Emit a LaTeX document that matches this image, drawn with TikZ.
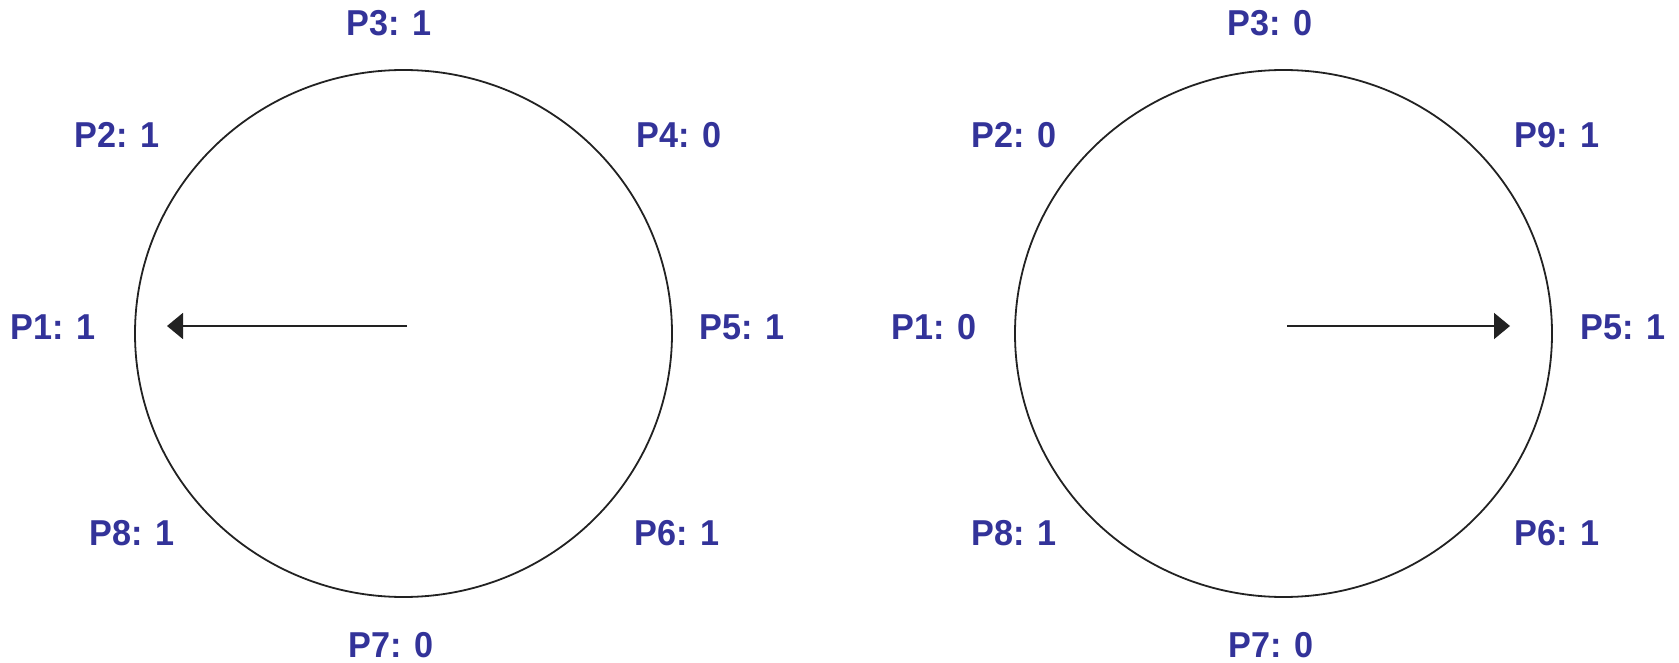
\documentclass[tikz,border=0pt]{standalone}
\usepackage{fontspec}
\setmainfont{Liberation Sans}
\usetikzlibrary{arrows.meta}
\definecolor{lblblue}{HTML}{333399}
\definecolor{ink}{HTML}{222222}
\tikzset{
  lbl/.style={font=\fontsize{36}{40}\selectfont\bfseries, text=lblblue, inner sep=0pt, anchor=center, xscale=0.95},
  ring/.style={draw=ink, line width=1.8pt},
  pointer/.style={draw=ink, line width=1.8pt, -{Triangle[length=16pt,width=26pt]}}
}
\begin{document}
\begin{tikzpicture}[x=1pt,y=-1pt]
\useasboundingbox (0,0) rectangle (1679,663);
% left diagram
\draw[ring] (403.5,333.5) ellipse [x radius=268.5, y radius=263.5];
\coordinate (la) at (407,326);
\coordinate (lb) at (167,326);
\draw[pointer] (la) -- (lb);
\node[lbl] (l1) at (53,327) {P1: 1};
\node[lbl] (l2) at (117,135) {P2: 1};
\node[lbl] (l3) at (389,23) {P3: 1};
\node[lbl] (l4) at (679,135) {P4: 0};
\node[lbl] (l5) at (742,327) {P5: 1};
\node[lbl] (l6) at (677,533) {P6: 1};
\node[lbl] (l7) at (391,645) {P7: 0};
\node[lbl] (l8) at (132,533) {P8: 1};
% right diagram
\draw[ring] (1283.5,333.5) ellipse [x radius=268.5, y radius=263.5];
\coordinate (ra) at (1287,326);
\coordinate (rb) at (1510,326);
\draw[pointer] (ra) -- (rb);
\node[lbl] (r1) at (934,327) {P1: 0};
\node[lbl] (r2) at (1014,135) {P2: 0};
\node[lbl] (r3) at (1270,23) {P3: 0};
\node[lbl] (r9) at (1557,135) {P9: 1};
\node[lbl] (r5) at (1623,327) {P5: 1};
\node[lbl] (r6) at (1557,533) {P6: 1};
\node[lbl] (r7) at (1271,645) {P7: 0};
\node[lbl] (r8) at (1014,533) {P8: 1};
\end{tikzpicture}
\end{document}
